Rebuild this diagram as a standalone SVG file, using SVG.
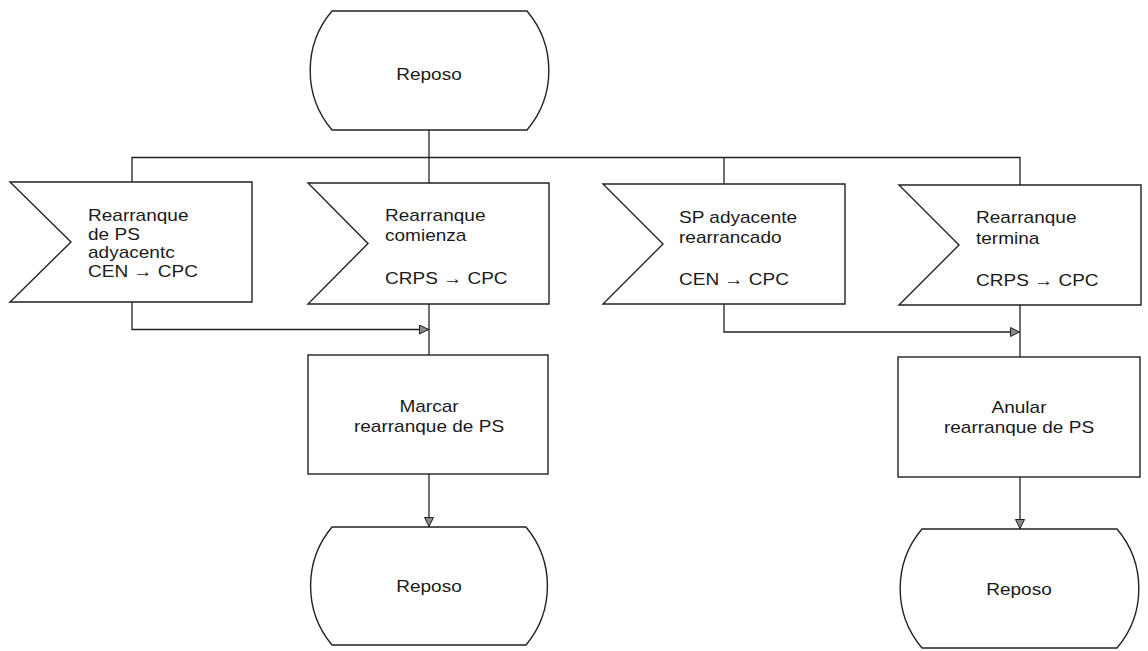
<svg xmlns="http://www.w3.org/2000/svg" width="1148" height="651" viewBox="0 0 1148 651">
<style>
.sh{fill:#fff;stroke:#222;stroke-width:1.4;stroke-linejoin:miter}
.ln{fill:none;stroke:#222;stroke-width:1.3}
.t{font-family:"Liberation Sans",Arial,sans-serif;font-size:17px;fill:#1a1a1a}
.c{text-anchor:middle}
</style>
<defs>
<marker id="ah" viewBox="0 0 10 10" refX="10" refY="5" markerWidth="10" markerHeight="10" markerUnits="userSpaceOnUse" orient="auto">
<path d="M0.5,0.5 L9.5,5 L0.5,9.5 Z" fill="#888" stroke="#222" stroke-width="1"/>
</marker>
</defs>
<rect width="1148" height="651" fill="#fff"/>
<g id="connectors">
<path class="ln" d="M429,130 V183"/>
<path class="ln" d="M132,182 V157.5 H1020 V185"/>
<path class="ln" d="M724,157.5 V184"/>
<path class="ln" d="M132,302 V329.5 H429" marker-end="url(#ah)"/>
<path class="ln" d="M429,304 V355"/>
<path class="ln" d="M429,474 V527" marker-end="url(#ah)"/>
<path class="ln" d="M724,304 V332 H1020" marker-end="url(#ah)"/>
<path class="ln" d="M1020,305 V357"/>
<path class="ln" d="M1020,477 V529" marker-end="url(#ah)"/>
</g>
<g id="reposo-top">
<path class="sh" d="M332,11 H527 A92,92 0 0 1 527,130 H332 A92,92 0 0 1 332,11 Z"/>
<text class="t c" transform="translate(429 80) scale(1.12 1)">Reposo</text>
</g>
<g id="senal-1">
<path class="sh" d="M10,182 H252 V302 H10 L71,242 Z"/>
<text class="t" transform="translate(88 221) scale(1.12 1)">Rearranque</text>
<text class="t" transform="translate(88 239.5) scale(1.12 1)">de PS</text>
<text class="t" transform="translate(88 258) scale(1.12 1)">adyacentc</text>
<text class="t" transform="translate(88 277) scale(1.12 1)">CEN → CPC</text>
</g>
<g id="senal-2">
<path class="sh" d="M308,183 H549 V304 H308 L368,243.5 Z"/>
<text class="t" transform="translate(385 221) scale(1.12 1)">Rearranque</text>
<text class="t" transform="translate(385 241) scale(1.12 1)">comienza</text>
<text class="t" transform="translate(385 284) scale(1.12 1)">CRPS → CPC</text>
</g>
<g id="senal-3">
<path class="sh" d="M603,184 H845 V304 H603 L663,244 Z"/>
<text class="t" transform="translate(679 223) scale(1.12 1)">SP adyacente</text>
<text class="t" transform="translate(679 243) scale(1.12 1)">rearrancado</text>
<text class="t" transform="translate(679 285) scale(1.12 1)">CEN → CPC</text>
</g>
<g id="senal-4">
<path class="sh" d="M899,185 H1141 V305 H899 L959,245 Z"/>
<text class="t" transform="translate(976 223) scale(1.12 1)">Rearranque</text>
<text class="t" transform="translate(976 244) scale(1.12 1)">termina</text>
<text class="t" transform="translate(976 286) scale(1.12 1)">CRPS → CPC</text>
</g>
<g id="marcar">
<rect class="sh" x="308" y="355" width="240" height="119"/>
<text class="t c" transform="translate(429 412) scale(1.12 1)">Marcar</text>
<text class="t c" transform="translate(429 432) scale(1.12 1)">rearranque de PS</text>
</g>
<g id="anular">
<rect class="sh" x="898" y="357" width="242" height="120"/>
<text class="t c" transform="translate(1019 413) scale(1.12 1)">Anular</text>
<text class="t c" transform="translate(1019 433) scale(1.12 1)">rearranque de PS</text>
</g>
<g id="reposo-izq">
<path class="sh" d="M332,527 H526 A92,92 0 0 1 526,645 H332 A92,92 0 0 1 332,527 Z"/>
<text class="t c" transform="translate(429 592) scale(1.12 1)">Reposo</text>
</g>
<g id="reposo-der">
<path class="sh" d="M922,529 H1117 A92,92 0 0 1 1117,648 H922 A92,92 0 0 1 922,529 Z"/>
<text class="t c" transform="translate(1019 595) scale(1.12 1)">Reposo</text>
</g>
</svg>
